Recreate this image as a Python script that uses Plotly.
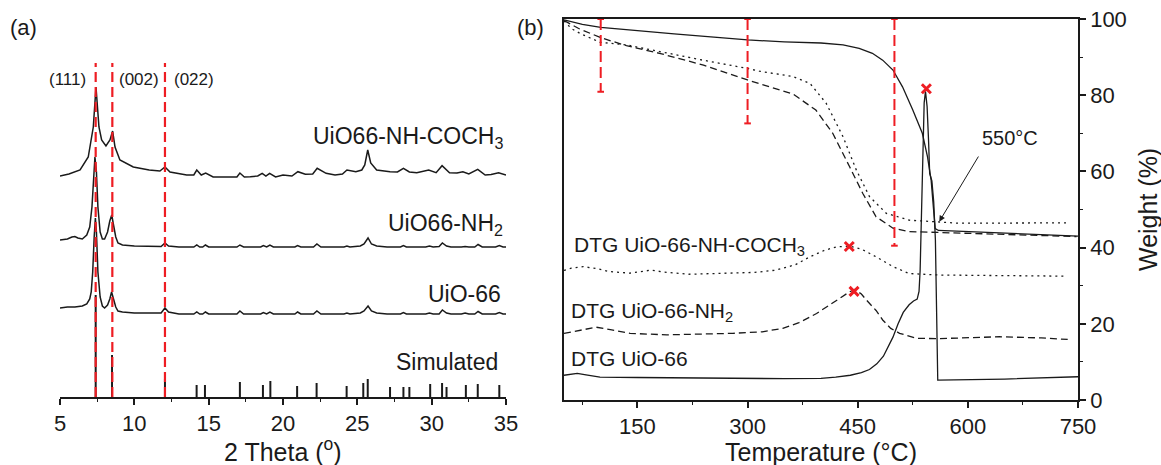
import plotly.graph_objects as go

W, H = 1161, 465
FONT = "Arial, 'Liberation Sans', sans-serif"
INK = "#1a1a1a"
RED = "#ee1d23"

# ---------------- Panel (a): XRD (intensity in arbitrary offset units) ----------------
theta_uio66 = [5.0, 5.5, 6.0, 6.5, 6.8, 7.0, 7.1, 7.2, 7.3, 7.38, 7.45, 7.55, 7.7, 7.85, 8.0, 8.2, 8.35,
               8.47, 8.6, 8.75, 8.9, 9.2, 10.0, 11.0, 11.8, 12.06, 12.3, 13.0, 14.0, 14.2, 14.4, 14.6,
               14.78, 15.0, 16.9, 17.1, 17.35, 18.5, 18.68, 18.9, 19.12, 19.35, 20.8, 20.98, 21.2,
               22.05, 22.28, 22.55, 24.1, 24.3, 24.5, 25.2, 25.45, 25.72, 25.95, 26.3, 27.0, 27.9,
               28.1, 28.3, 29.6, 29.85, 30.1, 30.5, 30.72, 31.0, 31.3, 32.0, 32.25, 32.5, 32.9, 33.12,
               33.4, 34.3, 34.55, 34.8, 35.0]
int_uio66 = [89, 90, 90, 91, 93, 98, 105, 125, 160, 179, 165, 125, 100, 91, 89, 92, 98,
             105, 98, 90, 86, 85, 84, 84, 84, 89, 85, 83, 83, 85, 83, 83,
             85, 83, 83, 86, 83, 83, 84.5, 83, 85, 83, 83, 85, 83,
             83, 86, 83, 83, 84, 83, 84, 86, 91, 86, 84, 83, 83,
             84.5, 83, 83, 84, 83, 83, 87, 84, 83, 83, 84, 83, 83, 85.5,
             83, 83, 84.5, 83, 83]

theta_nh2 = [5.0, 5.5, 5.8, 6.0, 6.2, 6.5, 6.8, 7.0, 7.15, 7.25, 7.35, 7.45, 7.55, 7.7, 7.85, 8.0,
             8.2, 8.35, 8.48, 8.6, 8.75, 8.9, 9.2, 10.0, 11.0, 11.8, 12.06, 12.3, 13.0, 14.0, 14.2,
             14.4, 14.6, 14.78, 15.0, 16.9, 17.1, 17.35, 18.5, 18.68, 18.9, 19.12, 19.35, 20.8,
             20.98, 21.2, 22.05, 22.28, 22.55, 24.1, 24.3, 24.5, 25.2, 25.45, 25.72, 25.95, 26.3,
             27.0, 27.9, 28.1, 28.3, 29.6, 29.85, 30.1, 30.5, 30.72, 31.0, 31.3, 32.0, 32.25, 32.5,
             32.9, 33.12, 33.4, 34.3, 34.55, 34.8, 35.0]
int_nh2 = [157, 158, 160, 160.5, 159, 158, 162, 170, 190, 215, 240, 225, 190, 165, 158, 158,
           165, 176, 182, 172, 160, 154, 152, 151, 151, 150.5, 154, 151, 150, 150, 152,
           150, 150, 152, 150, 150, 152, 150, 150, 151.5, 150, 152, 150, 150,
           151.5, 150, 150, 153, 150, 150, 151, 150, 151, 153, 159, 153, 151,
           150, 150, 151.5, 150, 150, 151, 150, 150.5, 154, 151, 150, 150, 150.5, 150,
           150, 152.5, 150, 150, 151.5, 150, 150]

theta_ac = [5.0, 5.6, 6.35, 6.9, 7.24, 7.42, 7.62, 7.8, 8.09, 8.36, 8.54, 8.7, 9.03, 9.93, 11.0,
            11.72, 12.06, 12.4, 13.52, 14.0, 14.2, 14.5, 14.8, 15.3, 16.5, 16.9, 17.1, 17.4, 17.8,
            18.3, 18.6, 18.85, 19.1, 19.5, 20.0, 20.6, 21.0, 21.5, 22.0, 22.3, 22.9, 23.5, 24.0,
            24.3, 24.9, 25.3, 25.5, 25.7, 25.9, 26.3, 27.2, 27.7, 28.1, 28.5, 29.0, 29.8, 30.3,
            30.7, 31.2, 31.7, 32.1, 32.5, 33.1, 33.6, 34.0, 34.5, 35.0]
int_ac = [221, 223, 227, 240, 270, 310, 270, 257, 251, 257, 266, 250, 237, 230, 227,
          226, 230, 225, 222, 222, 227, 222, 224, 220, 220, 220, 224, 220, 220.3,
          221, 223.7, 221, 223.7, 220, 222, 221, 225.3, 222.7, 223, 228.7, 223.7, 222, 223,
          227, 225.3, 227, 232, 247, 234, 227, 225.3, 225, 228.7, 225, 224.3, 227, 224.3,
          231.3, 224.3, 224, 225.3, 223, 227.7, 222, 222.5, 224.3, 222]

sim_theta = [7.40, 8.50, 12.06, 14.19, 14.75, 17.10, 18.65, 19.15, 20.95, 22.26, 24.28, 25.40,
             25.70, 27.20, 28.10, 28.50, 29.90, 30.70, 31.00, 32.30, 33.10, 34.55]
sim_int = [102, 42, 18, 12, 12, 15, 12, 16, 11, 14, 11, 14, 18, 10, 10, 10, 13, 14, 10, 12, 13, 12]

refl_theta = [7.40, 8.52, 12.06]
refl_label = ["(111)", "(002)", "(022)"]
refl_top = 334

# ---------------- Panel (b): TGA / DTG ----------------
T_tga_uio = [50, 75, 100, 150, 200, 250, 300, 350, 400, 430, 452, 470, 484, 498, 511, 525, 538,
             545, 550, 553, 555.5, 560, 600, 650, 700, 750]
w_tga_uio = [99.8, 98.6, 97.8, 96.9, 96.1, 95.3, 94.5, 94.0, 93.7, 93.2, 92.3, 91.0, 89.2, 86.6,
             82.2, 76.1, 70.0, 63.9, 57.7, 50.7, 45.0, 44.5, 44.2, 43.8, 43.4, 43.0]

T_tga_nh2 = [50, 70, 100, 135, 180, 240, 300, 340, 362, 393, 416, 439, 457, 475, 498, 520, 560,
             650, 748]
w_tga_nh2 = [99.6, 97.5, 95.1, 93.0, 91.0, 87.9, 84.0, 81.5, 80.3, 76.1, 70.0, 61.2, 54.2, 48.1,
             45.1, 44.2, 44.0, 43.5, 42.9]

T_tga_ac = [50, 60, 72, 99, 135, 180, 239, 298, 316, 362, 385, 407, 430, 448, 466, 489, 520,
            588, 735]
w_tga_ac = [99.5, 97.5, 96.2, 93.9, 93.2, 91.4, 89.2, 87.1, 86.3, 84.9, 83.1, 77.9, 69.1, 60.4,
            53.4, 49.0, 47.2, 46.4, 46.5]

T_dtg_uio = [50, 58, 68, 80, 99, 150, 200, 300, 350, 400, 420, 440, 455, 466, 476, 485, 492,
             498, 505, 512, 520, 526, 531, 533.5, 535, 536.5, 538.5, 540.5, 542.3, 544.5, 546.5,
             548, 551, 553.5, 555.8, 557.5, 559, 650, 750]
w_dtg_uio = [6.5, 6.8, 7.0, 6.6, 6.0, 5.9, 5.8, 5.7, 5.6, 5.7, 6.0, 6.5, 7.2, 8.0, 9.5, 11.5,
             14.0, 16.5, 20.0, 23.0, 25.0, 26.0, 26.5, 28.5, 34.0, 45.0, 65.0, 78.0, 81.0, 77.0,
             68.0, 59.5, 57.5, 52.0, 42.0, 20.0, 5.2, 5.5, 6.1]

T_dtg_nh2 = [50, 70, 94, 115, 140, 190, 240, 280, 320, 348, 370, 394, 420, 439, 446, 455, 462,
             475, 484, 495, 507, 530, 560, 600, 643, 700, 736]
w_dtg_nh2 = [17.5, 18.2, 19.1, 18.4, 17.5, 17.1, 17.3, 17.5, 17.9, 18.8, 20.3, 22.7, 26.0, 28.4,
             29.0, 27.8, 26.2, 23.5, 21.0, 18.8, 17.5, 16.2, 16.1, 16.3, 16.6, 16.3, 15.9]

T_dtg_ac = [50, 60, 76, 95, 112, 140, 169, 185, 220, 271, 310, 339, 365, 385, 405, 421, 439,
            455, 475, 498, 520, 560, 600, 735]
w_dtg_ac = [34.0, 34.6, 35.0, 34.5, 33.7, 33.3, 34.1, 33.6, 33.0, 33.2, 33.5, 34.1, 35.5, 37.6,
            39.3, 40.2, 40.4, 39.6, 37.6, 35.0, 33.2, 32.8, 32.7, 32.5]

peak_T = [438.5, 445, 543.5]
peak_w = [40.3, 28.5, 81.7]

step_T = [100, 300, 500]
step_w_low = [80.9, 72.6, 40.5]
step_w_high = 100
cap_half = 4.5

fig = go.Figure()

# ---- panel (a) traces ----
sx, sy = [], []
for p, h in zip(sim_theta, sim_int):
    sx += [p, p, None]
    sy += [0, h, None]
fig.add_trace(go.Scatter(x=sx, y=sy, mode="lines", line=dict(color=INK, width=2),
                         xaxis="x", yaxis="y", showlegend=False))
for tx, ty in [(theta_uio66, int_uio66), (theta_nh2, int_nh2), (theta_ac, int_ac)]:
    fig.add_trace(go.Scatter(x=tx, y=ty, mode="lines", line=dict(color=INK, width=1.5),
                             xaxis="x", yaxis="y", showlegend=False))
for p in refl_theta:
    fig.add_trace(go.Scatter(x=[p, p], y=[0, refl_top], mode="lines",
                             line=dict(color=RED, width=2.2, dash="10px,5px"),
                             xaxis="x", yaxis="y", showlegend=False))

# ---- panel (b) traces ----
b_series = [
    (T_tga_uio, w_tga_uio, "solid"),
    (T_tga_nh2, w_tga_nh2, "7px,4px"),
    (T_tga_ac, w_tga_ac, "2px,4px"),
    (T_dtg_uio, w_dtg_uio, "solid"),
    (T_dtg_nh2, w_dtg_nh2, "7px,4px"),
    (T_dtg_ac, w_dtg_ac, "2px,4px"),
]
for tx, ty, d in b_series:
    fig.add_trace(go.Scatter(x=tx, y=ty, mode="lines", line=dict(color=INK, width=1.3, dash=d),
                             xaxis="x2", yaxis="y2", showlegend=False))
for t, lo in zip(step_T, step_w_low):
    fig.add_trace(go.Scatter(x=[t, t], y=[step_w_high, lo], mode="lines",
                             line=dict(color=RED, width=2, dash="11px,5px"),
                             xaxis="x2", yaxis="y2", showlegend=False))
    cx, cy = [], []
    for yy in (step_w_high, lo):
        cx += [t - cap_half, t + cap_half, None]
        cy += [yy, yy, None]
    fig.add_trace(go.Scatter(x=cx, y=cy, mode="lines", line=dict(color=RED, width=2),
                             xaxis="x2", yaxis="y2", showlegend=False))
fig.add_trace(go.Scatter(x=peak_T, y=peak_w, mode="markers",
                         marker=dict(symbol="x-thin", size=9, line=dict(color=RED, width=3)),
                         xaxis="x2", yaxis="y2", showlegend=False))

axis_common = dict(showgrid=False, zeroline=False, showline=True, linecolor=INK, linewidth=1.5,
                   ticks="outside", ticklen=6, tickwidth=1.5, tickcolor=INK,
                   tickfont=dict(size=22, color=INK, family=FONT), automargin=False)

fig.update_layout(
    width=W, height=H, margin=dict(l=0, r=0, t=0, b=0),
    paper_bgcolor="white", plot_bgcolor="white",
    font=dict(family=FONT, color=INK),
    xaxis=dict(domain=[60 / W, 506 / W], anchor="y", range=[5, 35], tick0=5, dtick=5,
               minor=dict(tick0=5, dtick=2.5, ticks="outside", ticklen=3.5, tickwidth=1.2,
                          tickcolor=INK),
               **axis_common),
    yaxis=dict(domain=[(H - 397) / H, (H - 57) / H], anchor="x", range=[0, 340], visible=False),
    xaxis2=dict(domain=[564 / W, 1078 / W], anchor="y2", range=[50, 750], tick0=0, dtick=150,
                mirror=True,
                minor=dict(tick0=0, dtick=75, ticks="outside", ticklen=3.5, tickwidth=1.2,
                           tickcolor=INK),
                **axis_common),
    yaxis2=dict(domain=[(H - 400) / H, (H - 19) / H], anchor="x2", side="right", range=[0, 100],
                tick0=0, dtick=20, mirror=True,
                minor=dict(tick0=0, dtick=10, ticks="outside", ticklen=3.5, tickwidth=1.2,
                           tickcolor=INK),
                **axis_common),
)

ann = []
def A(text, x, y, size, xref="paper", yref="paper", xanchor="center", yanchor="middle", **kw):
    ann.append(dict(text=text, x=x, y=y, xref=xref, yref=yref, xanchor=xanchor, yanchor=yanchor,
                    showarrow=False, font=dict(size=size, color=INK, family=FONT), **kw))

# panel labels & axis titles (paper coords from pixel positions)
A("(a)", 23.5 / W, 1 - 27 / H, 22)
A("(b)", 530 / W, 1 - 27 / H, 22)
A("2 Theta (<sup>o</sup>)", 283 / W, 1 - 450 / H, 25)
A("Temperature (°C)", 821 / W, 1 - 451.5 / H, 25)
A("Weight (%)", 1148 / W, 1 - 210 / H, 25, textangle=-90)

# panel (a) labels
for lab, xpos in zip(refl_label, [5.5, 10.28, 13.98]):
    A(lab, xpos, 318, 17, xref="x", yref="y")
A("UiO66-NH-COCH<sub>3</sub>", 34.9, 260, 23, xref="x", yref="y", xanchor="right")
A("UiO66-NH<sub>2</sub>", 34.9, 173, 23, xref="x", yref="y", xanchor="right")
A("UiO-66", 34.8, 103, 23, xref="x", yref="y", xanchor="right")
A("Simulated", 34.6, 35.5, 23, xref="x", yref="y", xanchor="right")

# panel (b) labels
A("DTG UiO-66-NH-COCH<sub>3</sub>", 61, 40.3, 21, xref="x2", yref="y2", xanchor="left")
A("DTG UiO-66-NH<sub>2</sub>", 57, 23.0, 21, xref="x2", yref="y2", xanchor="left")
A("DTG UiO-66", 57, 11.0, 21, xref="x2", yref="y2", xanchor="left")
A("550°C", 657.8, 68.8, 20, xref="x2", yref="y2")
ann.append(dict(text="", x=561, y=46.8, xref="x2", yref="y2", ax=615.6, ay=64.3,
                axref="x2", ayref="y2", showarrow=True, arrowhead=2, arrowsize=1.2,
                arrowwidth=1, arrowcolor=INK, standoff=0))
fig.update_layout(annotations=ann)

fig.write_html("out.html")
